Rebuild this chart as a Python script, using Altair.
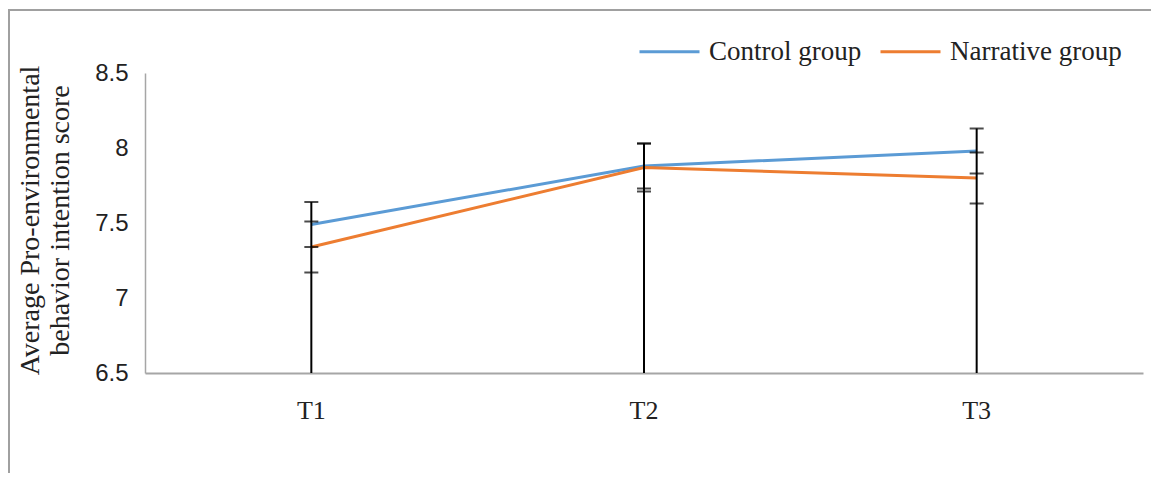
import altair as alt
import pandas as pd

times = ["T1", "T2", "T3"]
groups = ["Control group", "Narrative group"]
control_mean = [7.49, 7.88, 7.98]
control_se = [0.15, 0.15, 0.15]
narrative_mean = [7.34, 7.87, 7.80]
narrative_se = [0.17, 0.16, 0.17]
bar_floor = [6.5, 6.5, 6.5]
colors = ["#5B9BD5", "#ED7D31"]

rows = []
for g, means, ses in [(groups[0], control_mean, control_se), (groups[1], narrative_mean, narrative_se)]:
    for t, m, s in zip(times, means, ses):
        rows.append({"time": t, "group": g, "mean": m, "lo": m - s, "hi": m + s})
df = pd.DataFrame(rows)

bars = pd.DataFrame({
    "time": times,
    "floor": bar_floor,
    "top": [max(c + cs, n + ns) for c, cs, n, ns in zip(control_mean, control_se, narrative_mean, narrative_se)],
})

W, H = 998, 300
xenc = alt.X("time:N", sort=times, title=None,
             scale=alt.Scale(paddingInner=0, paddingOuter=0, align=0.5),
             axis=alt.Axis(labelAngle=0, ticks=False, labelFont="Liberation Serif", labelFontSize=26,
                           labelColor="#222", labelPadding=24, domainColor="#a6a6a6", domainWidth=2))
yscale = alt.Scale(domain=[6.5, 8.5], nice=False, zero=False)
yenc = alt.Y("mean:Q", scale=yscale,
             title=["Average Pro-environmental", "behavior intention score"],
             axis=alt.Axis(values=[6.5, 7, 7.5, 8, 8.5], format=".1~f", grid=False, ticks=False,
                           labelFont="Liberation Sans", labelFontSize=24, labelColor="#222",
                           labelPadding=17, domainColor="#a6a6a6", domainWidth=1.5,
                           titleFont="Liberation Serif", titleFontSize=28, titleFontWeight="normal",
                           titleColor="#222", titleAngle=270, titleAlign="center",
                           titleBaseline="top", titleX=-129, titleY=147, titleLineHeight=30,
                           titleLimit=0))

lines = alt.Chart(df).mark_line(strokeWidth=3).encode(
    x=xenc,
    y=yenc,
    color=alt.Color("group:N", sort=groups,
                    scale=alt.Scale(domain=groups, range=colors),
                    legend=alt.Legend(title=None, orient="none", direction="horizontal",
                                      legendX=493, legendY=-53, symbolType="stroke",
                                      symbolSize=3600, symbolStrokeWidth=3, symbolOffset=0,
                                      labelFont="Liberation Serif", labelFontSize=27,
                                      labelColor="#222", columnPadding=12, labelOffset=8,
                                      labelLimit=0)),
)

vrule = alt.Chart(bars).mark_rule(color="black", strokeWidth=2).encode(
    x=alt.X("time:N", sort=times),
    y=alt.Y("floor:Q", scale=yscale),
    y2="top:Q",
)

caps_hi = alt.Chart(df).mark_tick(color="black", thickness=2, size=14, orient="horizontal").encode(
    x=alt.X("time:N", sort=times),
    y=alt.Y("hi:Q", scale=yscale),
)
caps_lo = alt.Chart(df).mark_tick(color="black", thickness=2, size=14, orient="horizontal").encode(
    x=alt.X("time:N", sort=times),
    y=alt.Y("lo:Q", scale=yscale),
)

border = alt.Chart(pd.DataFrame({"a": [0]})).mark_rect(fill="transparent", stroke="#a0a0a0", strokeWidth=2).encode(
    x=alt.value(-136), x2=alt.value(1030), y=alt.value(-63), y2=alt.value(420)
)

chart = alt.layer(border, lines, vrule, caps_hi, caps_lo).properties(
    width=W, height=H,
    autosize=alt.AutoSizeParams(type="none"),
    padding={"left": 137, "top": 65, "right": 8, "bottom": 100},
).configure(background="white").configure_view(stroke=None)

chart.save("out.html", embed_options={"renderer": "svg", "actions": False})
